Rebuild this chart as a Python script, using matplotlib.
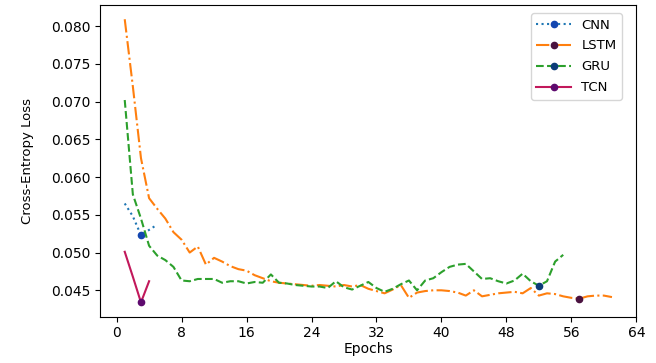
import matplotlib
matplotlib.use("Agg")
import matplotlib.pyplot as plt
import numpy as np

MODELS = ["CNN", "LSTM", "GRU", "TCN"]

CNN_LOSS = [0.0565, 0.0548, 0.0523, 0.0530, 0.0537]
LSTM_LOSS = [
    0.0809, 0.0720, 0.0625, 0.0572, 0.0558, 0.0545, 0.0527, 0.0517, 0.0500, 0.0508,
    0.0484, 0.0493, 0.0488, 0.0482, 0.0478, 0.0476, 0.0470, 0.0466, 0.0462, 0.0460,
    0.0459, 0.0458, 0.0457, 0.0456, 0.0457, 0.0456, 0.0455, 0.0457, 0.0455, 0.0457,
    0.0452, 0.0449, 0.0446, 0.0451, 0.0457, 0.0440, 0.0447, 0.0449, 0.0450, 0.0450,
    0.0449, 0.0447, 0.0443, 0.0450, 0.0442, 0.0444, 0.0446, 0.0447, 0.0448, 0.0446,
    0.0453, 0.0443, 0.0446, 0.0445, 0.0442, 0.0440, 0.0439, 0.0442, 0.0443, 0.0443,
    0.0441,
]
GRU_LOSS = [
    0.0702, 0.0577, 0.0545, 0.0509, 0.0496, 0.0490, 0.0481, 0.0463, 0.0462, 0.0465,
    0.0465, 0.0465, 0.0460, 0.0462, 0.0462, 0.0459, 0.0461, 0.0460, 0.0471, 0.0460,
    0.0459, 0.0457, 0.0456, 0.0455, 0.0455, 0.0453, 0.0462, 0.0454, 0.0451, 0.0456,
    0.0461, 0.0453, 0.0448, 0.0452, 0.0458, 0.0463, 0.0450, 0.0463, 0.0466, 0.0474,
    0.0481, 0.0484, 0.0485, 0.0475, 0.0465, 0.0466, 0.0462, 0.0459, 0.0463, 0.0472,
    0.0462, 0.0456, 0.0462, 0.0488, 0.0497,
]
TCN_LOSS = [0.0501, 0.0468, 0.0434, 0.0462]

# epoch (1-based) marked as best checkpoint for each model
BEST_EPOCH = [3, 57, 52, 3]

STYLES = {
    "CNN": dict(ls=":", color="#1f77b4", mfc="#1346b0"),
    "LSTM": dict(ls="-.", color="#ff7f0e", mfc="#4a1240"),
    "GRU": dict(ls="--", color="#2ca02c", mfc="#0b3c78"),
    "TCN": dict(ls="-", color="#c2185b", mfc="#5e0a6e"),
}


def main():
    fig = plt.figure(figsize=(6.56, 3.63), dpi=100)
    ax = fig.add_axes([0.153, 0.128, 0.817, 0.858])
    series = [CNN_LOSS, LSTM_LOSS, GRU_LOSS, TCN_LOSS]
    for name, loss, best in zip(MODELS, series, BEST_EPOCH):
        epochs = np.arange(1, len(loss) + 1)
        st = STYLES[name]
        ax.plot(epochs, loss, linestyle=st["ls"], color=st["color"], linewidth=1.5,
                marker="o", markersize=4.5, markevery=[best - 1],
                markerfacecolor=st["mfc"], markeredgecolor=st["mfc"], label=name)

    ax.set_xticks(np.arange(0, 65, 8))
    ax.set_yticks([0.045, 0.050, 0.055, 0.060, 0.065, 0.070, 0.075, 0.080])
    ax.yaxis.set_major_formatter(matplotlib.ticker.FormatStrFormatter("%.3f"))
    ax.tick_params(labelsize=10)
    ax.set_xlabel("Epochs", fontsize=10, labelpad=1)
    ax.set_ylabel("Cross-Entropy Loss", fontsize=9.5, labelpad=12)
    ax.legend(loc="upper right", fontsize=9.5, handlelength=2.6,
              bbox_to_anchor=(0.985, 0.995), labelspacing=0.6)
    fig.savefig("out.png", dpi=100)
    plt.close(fig)


if __name__ == "__main__":
    main()
